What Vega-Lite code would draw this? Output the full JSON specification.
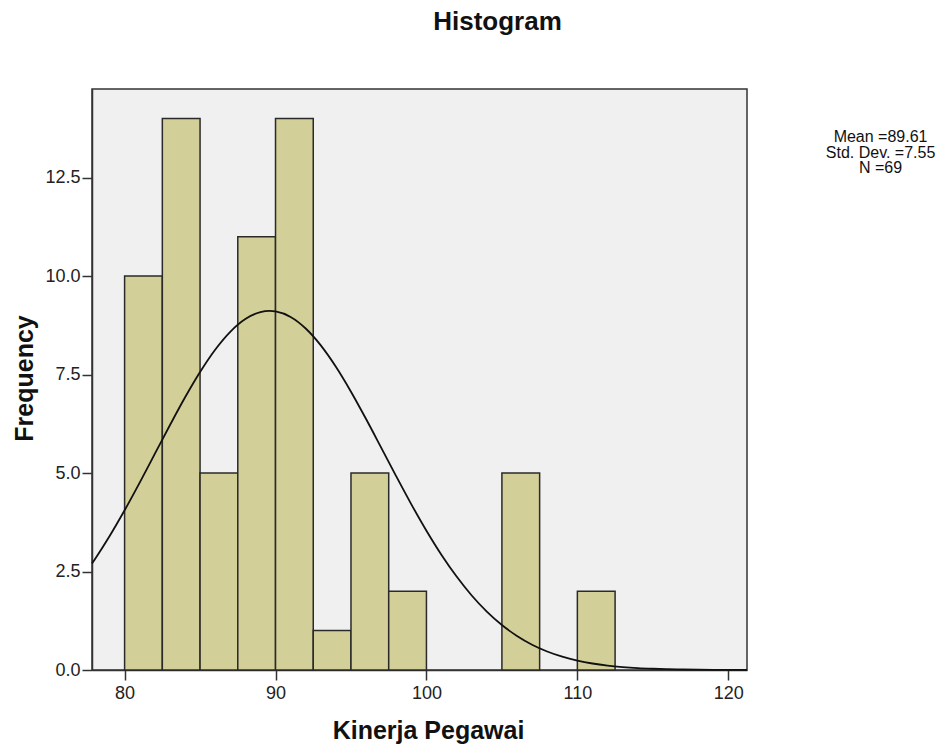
{
  "$schema": "https://vega.github.io/schema/vega-lite/v6.json",
  "width": 655,
  "height": 581,
  "autosize": {"type": "none"},
  "padding": {"left": 92, "top": 89, "right": 200, "bottom": 76},
  "background": "white",
  "title": {
    "text": "Histogram",
    "font": "Liberation Sans",
    "fontSize": 26,
    "fontWeight": "bold",
    "color": "#111",
    "anchor": "middle",
    "dx": 78,
    "baseline": "alphabetic",
    "offset": 33
  },
  "config": {
    "view": {"fill": "#f0f0f0", "stroke": "#333", "strokeWidth": 1.5},
    "font": "Liberation Sans",
    "axis": {
      "grid": false,
      "domainColor": "#333",
      "domainWidth": 1.5,
      "tickColor": "#333",
      "tickWidth": 1.5,
      "tickSize": 10,
      "labelFont": "Liberation Sans",
      "labelFontSize": 18,
      "labelColor": "#222",
      "titleFont": "Liberation Sans",
      "titleFontSize": 25,
      "titleFontWeight": "bold",
      "titleColor": "#111"
    }
  },
  "datasets": {
    "bins": [
      {"bin_start": 80, "bin_end": 82.5, "count": 10},
      {"bin_start": 82.5, "bin_end": 85, "count": 14},
      {"bin_start": 85, "bin_end": 87.5, "count": 5},
      {"bin_start": 87.5, "bin_end": 90, "count": 11},
      {"bin_start": 90, "bin_end": 92.5, "count": 14},
      {"bin_start": 92.5, "bin_end": 95, "count": 1},
      {"bin_start": 95, "bin_end": 97.5, "count": 5},
      {"bin_start": 97.5, "bin_end": 100, "count": 2},
      {"bin_start": 105, "bin_end": 107.5, "count": 5},
      {"bin_start": 110, "bin_end": 112.5, "count": 2}
    ],
    "curve": [
      {"x": 77.84, "y": 2.705},
      {"x": 78, "y": 2.795},
      {"x": 79, "y": 3.395},
      {"x": 80, "y": 4.054},
      {"x": 81, "y": 4.757},
      {"x": 82, "y": 5.485},
      {"x": 83, "y": 6.213},
      {"x": 84, "y": 6.917},
      {"x": 85, "y": 7.565},
      {"x": 86, "y": 8.131},
      {"x": 87, "y": 8.586},
      {"x": 88, "y": 8.910},
      {"x": 89, "y": 9.085},
      {"x": 89.61, "y": 9.115},
      {"x": 90, "y": 9.103},
      {"x": 91, "y": 8.962},
      {"x": 92, "y": 8.669},
      {"x": 93, "y": 8.241},
      {"x": 94, "y": 7.698},
      {"x": 95, "y": 7.065},
      {"x": 96, "y": 6.371},
      {"x": 97, "y": 5.646},
      {"x": 98, "y": 4.916},
      {"x": 99, "y": 4.206},
      {"x": 100, "y": 3.536},
      {"x": 101, "y": 2.921},
      {"x": 102, "y": 2.372},
      {"x": 103, "y": 1.891},
      {"x": 104, "y": 1.482},
      {"x": 105, "y": 1.141},
      {"x": 106, "y": 0.864},
      {"x": 107, "y": 0.642},
      {"x": 108, "y": 0.469},
      {"x": 109, "y": 0.337},
      {"x": 110, "y": 0.238},
      {"x": 111, "y": 0.165},
      {"x": 112, "y": 0.112},
      {"x": 113, "y": 0.075},
      {"x": 114, "y": 0.049},
      {"x": 115, "y": 0.032},
      {"x": 116, "y": 0.020},
      {"x": 117, "y": 0.013},
      {"x": 118, "y": 0.008},
      {"x": 119, "y": 0.005},
      {"x": 120, "y": 0.003},
      {"x": 121, "y": 0.002},
      {"x": 121.24, "y": 0.001}
    ],
    "stats": [
      {"label": "Mean =89.61", "sx": 130.09, "sy": 13.415},
      {"label": "Std. Dev. =7.55", "sx": 130.09, "sy": 13.009},
      {"label": "N =69", "sx": 130.09, "sy": 12.613}
    ]
  },
  "layer": [
    {
      "data": {"name": "bins"},
      "mark": {"type": "rect", "fill": "#d3cf98", "stroke": "#2a2a2a", "strokeWidth": 1.5},
      "encoding": {
        "x": {
          "field": "bin_start",
          "type": "quantitative",
          "scale": {"domain": [77.84, 121.24], "nice": false, "zero": false},
          "axis": {
            "values": [80, 90, 100, 110, 120],
            "format": "d",
            "labelPadding": 4,
            "title": "Kinerja Pegawai",
            "titleAlign": "center",
            "titleBaseline": "alphabetic",
            "titleX": 336,
            "titleY": 68
          }
        },
        "x2": {"field": "bin_end"},
        "y": {
          "field": "count",
          "type": "quantitative",
          "scale": {"domain": [0, 14.75], "nice": false},
          "axis": {
            "values": [0, 2.5, 5, 7.5, 10, 12.5],
            "format": ".1f",
            "labelPadding": 2,
            "title": "Frequency",
            "titleAngle": -90,
            "titleAlign": "center",
            "titleBaseline": "alphabetic",
            "titleX": -60,
            "titleY": 289
          }
        },
        "y2": {"datum": 0}
      }
    },
    {
      "data": {"name": "curve"},
      "mark": {"type": "line", "color": "#111", "strokeWidth": 1.8, "interpolate": "monotone"},
      "encoding": {
        "x": {"field": "x", "type": "quantitative"},
        "y": {"field": "y", "type": "quantitative"}
      }
    },
    {
      "data": {"name": "stats"},
      "mark": {"type": "text", "font": "Liberation Sans", "fontSize": 16, "color": "#111", "align": "center", "baseline": "alphabetic", "clip": false},
      "encoding": {
        "x": {"field": "sx", "type": "quantitative"},
        "y": {"field": "sy", "type": "quantitative"},
        "text": {"field": "label"}
      }
    }
  ]
}
